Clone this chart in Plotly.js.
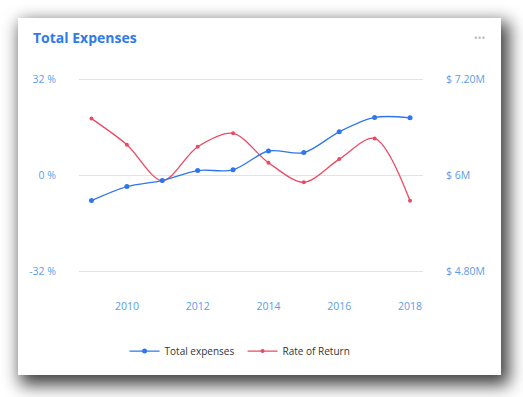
<!DOCTYPE html>
<html>
<head>
<meta charset="utf-8">
<script src="https://cdn.plot.ly/plotly-3.0.1.min.js"></script>
<style>
  html, body { margin: 0; padding: 0; background: #ffffff; width: 523px; height: 397px; overflow: hidden; }
  #card { position: absolute; left: 18px; top: 18px; width: 483px; height: 357px; background: #ffffff;
          box-shadow: 5px 7px 16px 3px rgba(0,0,0,0.75); }
  #chart { width: 483px; height: 357px; }
</style>
</head>
<body>
<div id="card"><div id="chart"></div></div>
<script>
const years = [2009, 2010, 2011, 2012, 2013, 2014, 2015, 2016, 2017, 2018];
const totalExpenses = [5680000, 5855000, 5930000, 6055000, 6065000, 6300000, 6280000, 6540000, 6720000, 6715000];
const rateOfReturn = [18.8, 10.1, -1.9, 9.4, 13.9, 4.1, -2.4, 5.3, 12.2, -8.6];
const xTicks = [2010, 2012, 2014, 2016, 2018];
const leftTickVals = [-32, 0, 32];
const leftTickText = ['-32 %', '0 %', '32 %'];
const rightTickVals = [4800000, 6000000, 7200000];
const rightTickText = ['$ 4.80M', '$ 6M', '$ 7.20M'];

const blue = '#2f76ee';
const red = '#ea4a63';
const tickColor = '#5c9de8';
const font = 'Open Sans, Noto Sans, sans-serif';

const traces = [
  {
    x: years, y: totalExpenses, yaxis: 'y2', name: 'Total expenses',
    type: 'scatter', mode: 'lines+markers',
    line: { color: blue, width: 1.3, shape: 'spline', smoothing: 0.9 },
    marker: { color: blue, size: 5 }
  },
  {
    x: years, y: rateOfReturn, yaxis: 'y', name: 'Rate of Return',
    type: 'scatter', mode: 'lines+markers',
    line: { color: red, width: 1.3, shape: 'spline', smoothing: 0.9 },
    marker: { color: red, size: 4 }
  }
];

const layout = {
  width: 483, height: 357,
  margin: { l: 61, r: 78, t: 49, b: 92, autoexpand: false },
  paper_bgcolor: 'rgba(0,0,0,0)', plot_bgcolor: 'rgba(0,0,0,0)',
  font: { family: font, size: 10.5, color: tickColor },
  title: {
    text: '<b>Total Expenses</b>',
    font: { family: font, size: 14, color: '#2f7be9' },
    xref: 'container', x: 15 / 483, xanchor: 'left',
    yref: 'container', y: 1 - 20 / 357, yanchor: 'middle'
  },
  showlegend: true,
  legend: {
    orientation: 'h', xref: 'paper', x: 0.1325, xanchor: 'left',
    y: -0.315, yanchor: 'middle',
    entrywidth: 73, entrywidthmode: 'pixels',
    font: { family: font, size: 10, color: '#333333' },
    bgcolor: 'rgba(0,0,0,0)'
  },
  xaxis: {
    range: [2008.647, 2018.367],
    tickvals: xTicks, ticktext: xTicks.map(String),
    showgrid: false, zeroline: false, showline: false, ticks: '',
    ticklabelstandoff: 15,
    tickfont: { family: font, size: 10.5, color: tickColor }
  },
  yaxis: {
    range: [-36, 36],
    tickvals: leftTickVals, ticktext: leftTickText,
    showgrid: true, gridcolor: '#e3e3e3', gridwidth: 1,
    zeroline: true, zerolinecolor: '#e3e3e3', zerolinewidth: 1,
    showline: false, ticks: '',
    ticklabelstandoff: 22,
    tickfont: { family: font, size: 10.5, color: tickColor }
  },
  yaxis2: {
    range: [4650000, 7350000],
    overlaying: 'y', side: 'right',
    tickvals: rightTickVals, ticktext: rightTickText,
    showgrid: false, zeroline: false, showline: false, ticks: '',
    ticklabelstandoff: 22,
    tickfont: { family: font, size: 10.5, color: tickColor }
  },
  annotations: [
    {
      text: '•••', xref: 'paper', yref: 'paper',
      x: 1 + (461 - 405) / 344, xanchor: 'center',
      y: 1 + (49 - 20) / 216, yanchor: 'middle',
      showarrow: false, font: { family: font, size: 10, color: '#bdb5bd' }
    }
  ]
};

Plotly.newPlot('chart', traces, layout, { displayModeBar: false, staticPlot: true });
</script>
</body>
</html>
